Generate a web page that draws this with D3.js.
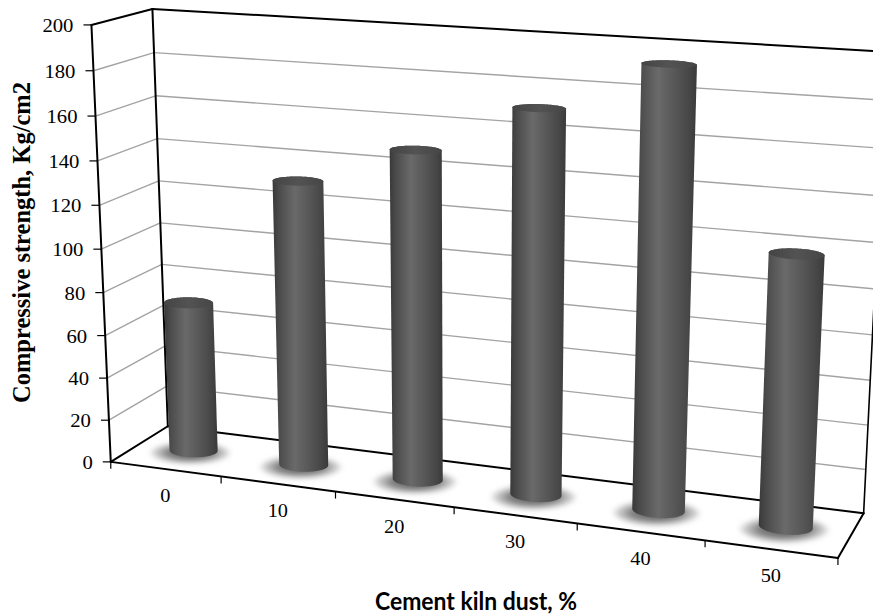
<!DOCTYPE html>
<html><head><meta charset="utf-8">
<script src="https://cdn.jsdelivr.net/npm/d3@7"></script>
<style>body{margin:0;background:#fff}svg{display:block}</style>
</head><body><svg id="c" width="873" height="616"></svg>
<script>
// ---------- data ----------
const categories = ["0","10","20","30","40","50"];
const strength   = [71, 132, 150, 172, 194, 119];
const yTicks     = [0,20,40,60,80,100,120,140,160,180,200];
const yMax       = 200;
const xTitle     = "Cement kiln dust, %";
const yTitle     = "Compressive strength, Kg/cm2";

// ---------- perspective calibration of the 3-D frame ----------
// (u across categories 0..1, v value fraction 0..1, w depth 0 front..1 back) -> pixel
const anchors = [
  [0,0,0,111.7,461.7],[0,1,0,91,24.5],[0,0,1,167,427.5],[0,1,1,153,9],
  [1,0,0,838.5,558.5],[1,0,1,864,511.7],[1,1,1,886.5,52.5],
  [0,0.1,0,109.5,420],[0,0.5,0,101.5,249],[0,0.9,0,93.2,71],[0,0.9,1,154,52],
  [1/6,0,0,221.5,476.3],[2/6,0,0,335,491.4],[3/6,0,0,453,507.2],[4/6,0,0,577,523.7],[5/6,0,0,705,540.7]
];
function solveProjection(pts){
  const A=[],b=[];
  pts.forEach(([u,v,w,x,y])=>{
    A.push([u,v,w,1,0,0,0,0,-x*u,-x*v,-x*w]); b.push(x);
    A.push([0,0,0,0,u,v,w,1,-y*u,-y*v,-y*w]); b.push(y);
  });
  const n=11, M=[];
  for(let i=0;i<n;i++){M.push([]);for(let j=0;j<=n;j++){let s=0;
    for(let k=0;k<A.length;k++) s+=A[k][i]*(j<n?A[k][j]:b[k]); M[i].push(s);}}
  for(let c=0;c<n;c++){let p=c;for(let r=c+1;r<n;r++) if(Math.abs(M[r][c])>Math.abs(M[p][c])) p=r;
    [M[c],M[p]]=[M[p],M[c]];
    for(let r=0;r<n;r++){ if(r===c) continue; const f=M[r][c]/M[c][c]; for(let j=c;j<=n;j++) M[r][j]-=f*M[c][j]; }}
  return M.map((r,i)=>r[n]/r[i]);
}
const P = solveProjection(anchors);
function proj(u,v,w){
  const d=P[8]*u+P[9]*v+P[10]*w+1;
  return [(P[0]*u+P[1]*v+P[2]*w+P[3])/d,(P[4]*u+P[5]*v+P[6]*w+P[7])/d];
}

// ---------- scales ----------
const xBand = d3.scaleBand().domain(categories).range([0,1]);
const uEdge = d3.scaleLinear().domain([0,categories.length]).range([0,1]);
const vScale = d3.scaleLinear().domain([0,yMax]).range([0,1]);

const svg = d3.select("#c");
const defs = svg.append("defs");
const body = defs.append("linearGradient").attr("id","body");
[[0,"#393939"],[0.12,"#4b4b4b"],[0.4,"#6a6a6a"],[0.5,"#626262"],[0.62,"#5a5a5a"],[0.88,"#464646"],[1,"#3a3a3a"]]
  .forEach(([o,c])=>body.append("stop").attr("offset",o).attr("stop-color",c));
const cap = defs.append("linearGradient").attr("id","cap");
[[0,"#444"],[0.5,"#535353"],[1,"#464646"]].forEach(([o,c])=>cap.append("stop").attr("offset",o).attr("stop-color",c));
const sh = defs.append("radialGradient").attr("id","shadow");
[[0,"#5a5a5a",1],[0.55,"#7a7a7a",0.95],[0.85,"#b0b0b0",0.6],[1,"#d0d0d0",0]].forEach(([o,c,a])=>sh.append("stop").attr("offset",o).attr("stop-color",c).attr("stop-opacity",a));
defs.append("filter").attr("id","blur").attr("x","-50%").attr("y","-50%").attr("width","200%").attr("height","200%")
  .append("feGaussianBlur").attr("stdDeviation",2.5);

const line = d3.line();
const seg = (g,a,b,stroke,width)=>g.append("path").attr("d",line([a,b])).attr("stroke",stroke).attr("stroke-width",width).attr("fill","none");

// gridlines (back wall + left wall)
const grid = svg.append("g");
yTicks.filter(t=>t>0&&t<yMax).forEach(t=>{
  const v=vScale(t);
  seg(grid,proj(0,v,1),proj(1,v,1),"#a3a3a3",1.4);
  seg(grid,proj(0,v,0),proj(0,v,1),"#a3a3a3",1.4);
});
// frame
const frame = svg.append("g").attr("stroke-linecap","round");
seg(frame,proj(0,0,1),proj(0,1,1),"#000",2);
seg(frame,proj(0,1,0),proj(0,1,1),"#000",2);
seg(frame,proj(0,1,1),proj(1,1,1),"#000",2);
seg(frame,proj(0,0,1),proj(1,0,1),"#000",2);
seg(frame,proj(0,0,0),proj(0,0,1),"#000",2);
seg(frame,proj(1,0,0),proj(1,0,1),"#000",2);
seg(frame,proj(1,0,1),proj(1,1,1),"#000",1.6);
seg(frame,proj(0,0,0),proj(0,1,0),"#000",2);
seg(frame,proj(0,0,0),proj(1,0,0),"#000",2);

// cylinders
const wc=0.5, rw=0.17, ru=xBand.bandwidth()*0.205;
function ring(uc,v,k,dw){return d3.range(90).map(i=>{const t=i/90*2*Math.PI;return proj(uc+k*ru*Math.cos(t),v,wc+dw+k*rw*Math.sin(t));});}
const closed = d3.line().curve(d3.curveLinearClosed);
const bars = svg.append("g");
categories.forEach((c,i)=>{
  const uc=xBand(c)+xBand.bandwidth()/2;
  bars.append("path").attr("d",closed(ring(uc,0,1.75,-0.06))).attr("fill","url(#shadow)").attr("filter","url(#blur)");
});
categories.forEach((c,i)=>{
  const uc=xBand(c)+xBand.bandwidth()/2, vt=vScale(strength[i]);
  const hull=d3.polygonHull(ring(uc,0,1,0).concat(ring(uc,vt,1,0)));
  bars.append("path").attr("d",closed(hull)).attr("fill","url(#body)");
  bars.append("path").attr("d",closed(ring(uc,vt,1,0))).attr("fill","url(#cap)");
});

// y axis ticks and labels
const yAx = svg.append("g").attr("font-family","'Liberation Serif','Times New Roman',serif").attr("font-size",18.5);
yTicks.forEach(t=>{
  const [x,y]=proj(0,vScale(t),0);
  seg(yAx,[x-8,y],[x,y],"#000",1.2);
  yAx.append("text").attr("transform",`translate(${x-18},${y+0.5}) scale(1.12,1)`)
    .attr("text-anchor","end").attr("dominant-baseline","central").text(t);
});
// x axis ticks and labels
const xAx = svg.append("g").attr("font-family","'Liberation Serif','Times New Roman',serif").attr("font-size",18.5);
d3.range(categories.length+1).forEach(k=>{
  const [x,y]=proj(uEdge(k),0,0);
  seg(xAx,[x,y],[x,y+7],"#000",1.2);
});
categories.forEach(c=>{
  const [x,y]=proj(xBand(c)+xBand.bandwidth()/2,0,0);
  xAx.append("text").attr("transform",`translate(${x},${y+27}) scale(1.1,1)`)
    .attr("text-anchor","middle").attr("dominant-baseline","central").text(c);
});
// titles
svg.append("text").attr("transform","translate(30,242.5) rotate(-90)")
  .attr("text-anchor","middle").attr("font-family","'Liberation Serif','Times New Roman',serif")
  .attr("font-weight","bold").attr("font-size",24.5).text(yTitle);
svg.append("text").attr("x",476).attr("y",610).attr("text-anchor","middle")
  .attr("font-family","Lato,'Open Sans',sans-serif").attr("font-weight","bold").attr("font-size",24)
  .attr("textLength",202).attr("lengthAdjust","spacingAndGlyphs").text(xTitle);
</script></body></html>
